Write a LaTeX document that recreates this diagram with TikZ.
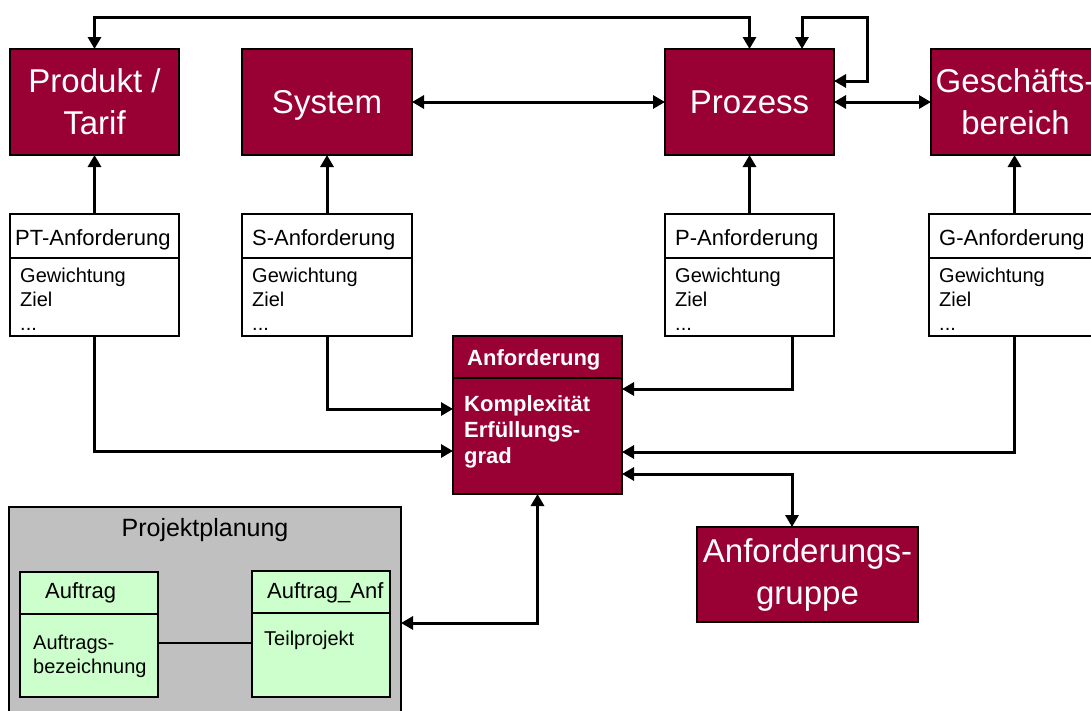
\documentclass[tikz,border=0pt]{standalone}
\usepackage{fontspec}
\setmainfont{Liberation Sans}
\usetikzlibrary{arrows.meta,calc}
\definecolor{wine}{HTML}{990033}
\definecolor{mint}{HTML}{CCFFCC}
\definecolor{panelgray}{HTML}{C0C0C0}

\tikzset{
  mainbox/.style={draw=black, line width=1.5pt, fill=wine, text=white, anchor=north west,
    inner sep=0pt, outer sep=0pt, align=center, font=\fontsize{33}{42}\selectfont},
  reqbox/.style={draw=black, line width=1.5pt, fill=white, anchor=north west,
    inner sep=0pt, outer sep=0pt},
  classbox/.style={draw=black, line width=1.2pt, fill=mint, anchor=north west,
    inner sep=0pt, outer sep=0pt},
  headtxt/.style={anchor=base west, inner sep=0pt, font=\fontsize{22}{26}\selectfont},
  bodytxt/.style={anchor=base west, inner sep=0pt, font=\fontsize{20}{24}\selectfont},
  anftxt/.style={anchor=base west, inner sep=0pt, text=white, font=\bfseries\fontsize{22}{26}\selectfont},
  divider/.style={line width=1.5pt},
  conn/.style={line width=3pt, -{Triangle[length=12pt,width=13pt]}},
  twoway/.style={line width=3pt, {Triangle[length=12pt,width=13pt]}-{Triangle[length=12pt,width=13pt]}},
}

% header and attribute lines of a requirement box
\newcommand{\reqtexts}[3]{%
  \node[headtxt] (#1-h) at ($(#1.north west)+(#2,31)$) {#3};
  \node[bodytxt] (#1-a) at ($(#1.north west)+(10,68)$) {Gewichtung};
  \node[bodytxt] (#1-b) at ($(#1.north west)+(10,92)$) {Ziel};
  \node[bodytxt] (#1-c) at ($(#1.north west)+(10,116)$) {...};
  \draw[divider] ($(#1.north west)+(0,44)$) -- ($(#1.north east)+(0,44)$);
}

\begin{document}
\begin{tikzpicture}[x=1pt,y=-1pt]
\clip (0,0) rectangle (1091,710);
\fill[white] (0,0) rectangle (1091,710);

% main entities
\node[mainbox, minimum width=169pt, minimum height=106pt] (pt)   at (10,49)  {Produkt /\\Tarif};
\node[mainbox, minimum width=170pt, minimum height=106pt, text depth=0pt] (sys)  at (242,49) {System};
\node[mainbox, minimum width=169pt, minimum height=106pt, text depth=0pt] (proz) at (665,49) {Prozess};
\node[mainbox, minimum width=169pt, minimum height=106pt] (gb)   at (931,49) {Geschäfts-\\bereich};

% requirement boxes
\node[reqbox, minimum width=169pt, minimum height=122pt] (ptreq) at (10,214)  {};
\node[reqbox, minimum width=170pt, minimum height=122pt] (sreq)  at (242,214) {};
\node[reqbox, minimum width=169pt, minimum height=122pt] (preq)  at (665,214) {};
\node[reqbox, minimum width=171pt, minimum height=122pt] (greq)  at (929,214) {};
\reqtexts{ptreq}{5}{PT-Anforderung}
\reqtexts{sreq}{10}{S-Anforderung}
\reqtexts{preq}{10}{P-Anforderung}
\reqtexts{greq}{10}{G-Anforderung}

% central requirement
\node[reqbox, fill=wine, minimum width=169pt, minimum height=158pt] (anf) at (453,336) {};
\draw[divider] ($(anf.north west)+(0,42)$) -- ($(anf.north east)+(0,42)$);
\node[anftxt] (anf-h) at ($(anf.north west)+(14,29)$) {Anforderung};
\node[anftxt] (anf-a) at ($(anf.north west)+(11,75)$) {Komplexität};
\node[anftxt] (anf-b) at ($(anf.north west)+(11,101)$) {Erfüllungs-};
\node[anftxt] (anf-c) at ($(anf.north west)+(11,127)$) {grad};

% requirement group
\node[mainbox, minimum width=221pt, minimum height=95pt] (grp) at (697,527) {Anforderungs-\\gruppe};

% project planning panel
\node[draw=black, line width=1.5pt, fill=panelgray, anchor=north west, inner sep=0pt, outer sep=0pt,
      minimum width=392pt, minimum height=220pt] (pp) at (9,507) {};
\node[anchor=base, inner sep=0pt, font=\fontsize{25}{30}\selectfont] (pp-t) at ($(pp.north)+(0,29)$) {Projektplanung};

\node[classbox, minimum width=138pt, minimum height=125pt] (auf) at (20,572) {};
\draw[line width=1.2pt] ($(auf.north west)+(0,42)$) -- ($(auf.north east)+(0,42)$);
\node[headtxt] (auf-h) at ($(auf.north west)+(25,26)$) {Auftrag};
\node[bodytxt] (auf-a) at ($(auf.north west)+(13,77)$) {Auftrags-};
\node[bodytxt] (auf-b) at ($(auf.north west)+(13,101)$) {bezeichnung};

\node[classbox, minimum width=138pt, minimum height=126pt] (aa) at (252,571) {};
\draw[line width=1.2pt] ($(aa.north west)+(0,42)$) -- ($(aa.north east)+(0,42)$);
\node[headtxt] (aa-h) at ($(aa.north west)+(15,27)$) {Auftrag\_Anf};
\node[bodytxt] (aa-a) at ($(aa.north west)+(12,74)$) {Teilprojekt};

\draw[line width=1.2pt] ($(auf.north east)+(0,71)$) -- ($(aa.north west)+(0,72)$);

% connectors between the main entities
\coordinate (top) at (0,17);
\draw[twoway] (pt.north) -- (pt.north |- top) -| (proz.north);
\draw[twoway] ($(proz.north east)+(-32,0)$) -- ++(0,-32) -- ++(65,0) -- ++(0,64) -- ($(proz.north east)+(0,32)$);
\draw[twoway] (sys.east) -- (proz.west);
\draw[twoway] (proz.east) -- (gb.west);

% requirement boxes to their entities
\draw[conn] (ptreq.north) -- (pt.south);
\draw[conn] (sreq.north) -- (sys.south);
\draw[conn] (preq.north) -- (proz.south);
\draw[conn] (greq.north) -- (greq.north |- gb.south);

% requirement boxes to the central requirement
\draw[conn] (ptreq.south) |- ($(anf.north west)+(0,115)$);
\draw[conn] (sreq.south) |- ($(anf.north west)+(0,73)$);
\draw[conn] ($(preq.south west)+(127,0)$) |- ($(anf.north east)+(0,53)$);
\draw[conn] (greq.south) |- ($(anf.north east)+(0,116)$);

% central requirement to group and planning
\draw[twoway] ($(anf.north east)+(0,138)$) -| ($(grp.north west)+(95,0)$);
\draw[twoway] (anf.south) |- ($(pp.north east)+(0,116)$);
\end{tikzpicture}
\end{document}
